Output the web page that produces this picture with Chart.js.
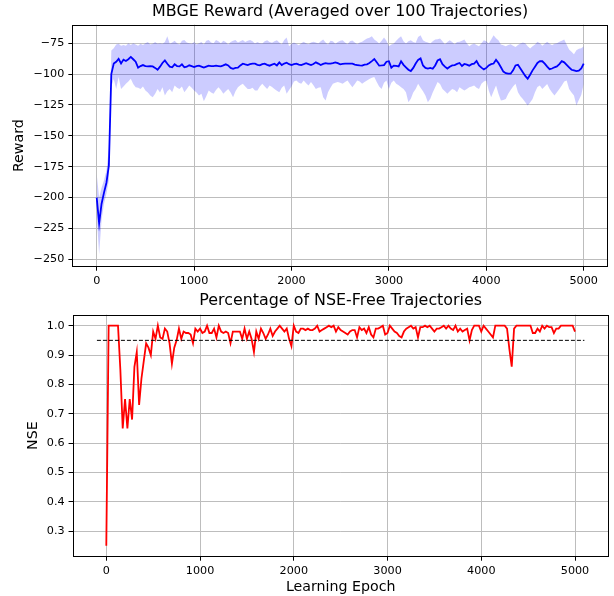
<!DOCTYPE html>
<html>
<head>
<meta charset="utf-8">
<script src="https://cdn.jsdelivr.net/npm/chart.js@4.4.0/dist/chart.umd.min.js"></script>
<style>
  html, body { margin: 0; padding: 0; background: #fff; }
  #wrap { position: relative; width: 614px; height: 596px; }
  #rewardChart { position: absolute; left: 0; top: 0; }
  #nseChart { position: absolute; left: 0; top: 290px; }
</style>
</head>
<body>
<div id="wrap">
  <canvas id="rewardChart" width="614" height="290"></canvas>
  <canvas id="nseChart" width="614" height="306"></canvas>
</div>
<script>
// epochs are evaluated every 25 learning epochs, 0..5000
const epochs = Array.from({ length: 201 }, (_, i) => i * 25);

const epochTicks = [0, 1000, 2000, 3000, 4000, 5000];
const rewardTicks = [-250, -225, -200, -175, -150, -125, -100, -75];
const nseTicks = [0.3, 0.4, 0.5, 0.6, 0.7, 0.8, 0.9, 1.0];

const rewardMean = [
  -200, -221, -205, -196, -188, -174, -100, -91.5, -90, -87.7,
  -91.4, -88.3, -89.4, -88, -86.1, -88, -90, -94.8, -93.5, -92.7,
  -93.5, -93.8, -93.5, -93.8, -95, -96.5, -94, -91, -88.9, -91.6,
  -94, -94.5, -92.1, -93.5, -93.8, -92.1, -94.5, -94, -92.9, -93.5,
  -94.3, -93.5, -93.2, -94, -94.8, -94, -93.2, -93.5, -93.5, -93.2,
  -93.5, -93.8, -93, -92.1, -93, -95, -95.7, -95, -94.8, -93,
  -91.6, -92.2, -92.7, -92, -91.6, -91.6, -92.5, -92.9, -92, -91.6,
  -92.5, -93.2, -92.3, -91.6, -93, -90.5, -92.7, -91.5, -90.8, -92,
  -92.7, -92, -91.6, -92.4, -92.7, -92, -91.2, -92, -92.7, -91.8,
  -90.5, -91.5, -92.7, -91.8, -91.2, -91.5, -91.6, -91.2, -90.5, -91.2,
  -92.1, -91.8, -91.6, -91.6, -91.6, -91.6, -92.4, -92.7, -93, -93.2,
  -92.3, -92.1, -91, -89.5, -87.8, -90.5, -93.2, -93, -92.7, -90,
  -89.6, -94.8, -93.2, -93.3, -93.8, -89.6, -92.5, -94.5, -96.5, -97.6,
  -95, -91.5, -88.5, -87.3, -93, -95, -95.5, -95, -95.7, -93,
  -89, -88, -92, -94, -95.5, -94, -93, -92.7, -91.7, -91,
  -93.5, -91.8, -92.3, -93.2, -92, -91.5, -89.4, -93, -94.8, -96.2,
  -95, -93, -92, -91.5, -88.5, -91, -94.5, -98, -99.3, -99.7,
  -99.7, -97, -93, -92.5, -95.5, -98.5, -101.5, -103.8, -100.5, -97,
  -94, -91, -89.5, -89.6, -91.5, -94, -96, -95.5, -94.5, -93.8,
  -92, -89.6, -90.5, -92.5, -94.5, -96.5, -97, -97.6, -97.3, -95.5,
  -91.6
];

const rewardUpper = [
  -181, -200, -192, -186, -178, -160, -81, -79, -76, -75.5,
  -77, -76.5, -77, -75, -76.5, -75, -76, -77, -75.5, -76.5,
  -75, -74, -76, -75.5, -74, -75.5, -75, -75.5, -74, -69.3,
  -75.5, -74.5, -73, -75, -76, -73, -72.5, -74.5, -75, -75.5,
  -74, -76, -75, -74, -76, -73, -72.5, -74.5, -75, -72.5,
  -73.5, -75, -73, -74, -76, -74, -73, -72.5, -74.5, -73.5,
  -72.5, -74, -73, -72.5, -73.5, -75.3, -74, -75, -75.3, -73.5,
  -72.6, -74, -74.7, -73.5, -72.6, -74.5, -75.8, -72.5, -70.4, -77.4,
  -75.5, -74.5, -75.5, -76.6, -75, -73.9, -75, -75.8, -74.5, -73.9,
  -74.5, -75.3, -73.5, -72, -74.5, -76, -73, -73.5, -75.5, -74,
  -73, -72.6, -74.5, -75.8, -73.5, -72.8, -74.5, -75.8, -74.5, -73.9,
  -72.5, -71.2, -70.5, -69.3, -72, -73.5, -75.3, -73, -70.4, -73,
  -77.4, -76, -75.3, -73, -71, -69.3, -73.5, -75.3, -73.5, -72.6,
  -74, -74.7, -70, -68.5, -72.6, -73.9, -74.5, -75.3, -73.5, -72,
  -71.8, -71.2, -73.5, -75.8, -74, -72.6, -74, -75.8, -74, -73.9,
  -73, -72, -75, -77.4, -76, -75.3, -76.5, -77.4, -75, -72.6,
  -73.5, -75.3, -72, -68.5, -71, -72.6, -76, -76.6, -77.4, -76.5,
  -75.8, -77, -78, -76.5, -75.3, -74.5, -75, -77.5, -79.3, -77.5,
  -76, -73.9, -75, -77, -75.5, -73.9, -75.5, -76.6, -75.5, -75,
  -73.9, -73, -72, -76, -80.2, -82, -84, -80.7, -79.5, -79,
  -77.4
];

const rewardLower = [
  -215, -246, -218, -205, -197, -186, -110, -104, -112, -102.4,
  -112, -110, -107.9, -106, -103.8, -108, -110.6, -111, -112, -110,
  -113.3, -115, -117.4, -118.8, -116, -112, -115, -110.6, -117.4, -114,
  -112, -114.7, -109.2, -111, -112, -110, -114.7, -112, -109.2, -111,
  -113.3, -115, -117.4, -116, -122, -118, -113.3, -115, -116, -113,
  -110.6, -113, -116, -114, -112, -115, -118.8, -114, -110.6, -109,
  -107.9, -110, -112, -112, -111, -113.3, -113.3, -110, -107.9, -110,
  -112, -109.2, -110.5, -112, -113.5, -114.7, -111, -109.2, -116, -113,
  -110, -106, -105.2, -107, -107.9, -105.2, -107.5, -109.2, -106.5, -109,
  -112, -111, -110.6, -118.8, -121.5, -114.7, -111, -107.9, -107, -106.5,
  -107, -107.9, -106.5, -105.2, -108, -110.6, -108, -105.2, -106, -107.9,
  -106.5, -105.2, -104, -103, -102.4, -106.5, -110, -112, -107, -105.2,
  -112, -107, -105.2, -107.9, -109, -110.6, -112, -114.7, -122.8, -120,
  -115, -112, -107.9, -111, -114, -117.4, -122.8, -120, -115, -110.6,
  -106.5, -108, -112, -114, -116, -114, -112, -113, -114.7, -110.6,
  -112, -113.3, -112, -110.6, -110, -109.2, -111, -112, -107.9, -106,
  -105.2, -113.3, -118.8, -114, -109.2, -116, -121.5, -121, -120.1, -116,
  -113, -110, -107.9, -114.7, -118, -120.1, -122.8, -125.5, -123, -120.1,
  -114.7, -110.5, -109.2, -112, -110, -108, -112, -115, -117.4, -114.7,
  -112, -109.2, -106, -105.2, -112, -115, -117.4, -125.5, -121, -117,
  -108
];

const nseFree = [
  0.25, 1.0, 1.0, 1.0, 1.0, 1.0, 0.85, 0.65, 0.75, 0.65,
  0.75, 0.68, 0.86, 0.91, 0.73, 0.82, 0.88, 0.94, 0.925, 0.90,
  0.98, 0.955, 1.0, 0.96, 0.955, 0.99, 0.98, 0.94, 0.87, 0.925,
  0.95, 0.99, 0.955, 0.98, 0.975, 0.975, 0.97, 0.94, 0.99, 0.98,
  0.99, 0.975, 0.98, 1.0, 0.975, 0.975, 0.99, 0.96, 1.0, 0.98,
  0.975, 0.98, 0.975, 0.94, 0.98, 0.98, 0.98, 0.98, 0.955, 0.99,
  0.955, 0.98, 0.955, 0.91, 0.98, 0.955, 0.99, 0.975, 0.955, 0.97,
  0.99, 0.965, 0.98, 0.99, 1.0, 0.99, 0.98, 0.99, 0.955, 0.93,
  1.0, 0.98, 0.975, 0.99, 0.99, 0.985, 0.99, 0.985, 0.985, 0.99,
  1.0, 0.98, 0.985, 0.99, 0.995, 1.0, 0.995, 1.0, 0.98, 0.995,
  0.985, 0.98, 0.975, 0.97, 0.98, 0.985, 0.985, 0.96, 0.995, 0.985,
  0.99, 0.975, 0.995, 0.97, 0.96, 0.99, 0.99, 0.995, 1.0, 0.97,
  0.975, 1.0, 0.99, 0.98, 0.975, 0.965, 0.96, 0.98, 0.99, 0.995,
  1.0, 0.99, 0.995, 0.96, 0.995, 0.995, 1.0, 0.995, 1.0, 0.99,
  0.98, 0.99, 0.99, 0.995, 1.0, 0.99, 1.0, 0.99, 0.985, 1.0,
  0.98, 0.99, 0.98, 0.985, 0.99, 0.95, 0.985, 1.0, 1.0, 1.0,
  0.98, 1.0, 0.99, 0.98, 0.97, 0.96, 1.0, 1.0, 1.0, 1.0,
  1.0, 0.99, 0.92, 0.86, 0.99, 1.0, 1.0, 1.0, 1.0, 1.0,
  1.0, 1.0, 0.975, 0.975, 0.99, 0.98, 1.0, 0.99, 1.0, 0.995,
  0.995, 0.975, 0.99, 0.99, 1.0, 1.0, 1.0, 1.0, 1.0, 1.0,
  0.98
];

const thresholdX = [-100, 5100];
const thresholdY = [0.95, 0.95];

Chart.defaults.font.family = "'DejaVu Sans', sans-serif";
Chart.defaults.color = "#000";

const points = (xs, ys) => xs.map((x, i) => ({ x, y: ys[i] }));
const minus = v => String(v).replace("-", "\u2212");
const fixedTicks = values => scale => { scale.ticks = values.map(value => ({ value })); };

// black box round the plot area, like matplotlib spines
const framePlugin = {
  id: "frame",
  afterDatasetsDraw(chart) {
    const { ctx, chartArea: a } = chart;
    const x0 = Math.round(a.left) + 0.5, y0 = Math.round(a.top) + 0.5;
    const x1 = Math.round(a.right) - 0.5, y1 = Math.round(a.bottom) - 0.5;
    ctx.save();
    ctx.strokeStyle = "#000";
    ctx.lineWidth = 1;
    ctx.strokeRect(x0, y0, x1 - x0, y1 - y0);
    ctx.restore();
  },
};

const gridStyle = { color: "#bdbdbd", lineWidth: 1, tickColor: "#000", tickLength: 4 };
const tickFont = { size: 11.2 };

function baseOptions(title, padRight) {
  return {
    responsive: false,
    animation: false,
    events: [],
    layout: { padding: { left: 0, right: padRight, top: 0, bottom: 0 } },
    plugins: {
      legend: { display: false },
      tooltip: { enabled: false },
      title: {
        display: true,
        fullSize: false,
        text: title,
        color: "#000",
        font: { size: 15.9, weight: "normal" },
        padding: { top: 2.5, bottom: 3.1 },
      },
    },
  };
}

// Reward chart
const rewardOpts = baseOptions("MBGE Reward (Averaged over 100 Trajectories)", 5.95);
rewardOpts.scales = {
  x: {
    type: "linear",
    min: -250,
    max: 5250,
    grid: gridStyle,
    border: { display: false },
    ticks: { font: tickFont, padding: 4, maxRotation: 0, autoSkip: false, callback: v => String(v) },
    afterBuildTicks: fixedTicks(epochTicks),
    afterFit: s => { s.height = 23.3; },
  },
  y: {
    type: "linear",
    min: -256,
    max: -60,
    grid: gridStyle,
    border: { display: false },
    ticks: { font: tickFont, padding: 4, autoSkip: false, callback: v => minus(v) },
    afterBuildTicks: fixedTicks(rewardTicks),
    title: { display: true, text: "Reward", color: "#000", font: { size: 14.2 }, padding: { top: 10.5 } },
    afterFit: s => { s.width = 72.35; },
  },
};

new Chart(document.getElementById("rewardChart"), {
  type: "line",
  data: {
    datasets: [
      { label: "mean", data: points(epochs, rewardMean), borderColor: "#0000ff", borderWidth: 1.8, pointRadius: 0, fill: false },
      { label: "upper", data: points(epochs, rewardUpper), borderColor: "rgba(0,0,0,0)", borderWidth: 0, pointRadius: 0, backgroundColor: "rgba(0,0,255,0.2)", fill: "+1" },
      { label: "lower", data: points(epochs, rewardLower), borderColor: "rgba(0,0,0,0)", borderWidth: 0, pointRadius: 0, fill: false },
    ],
  },
  options: rewardOpts,
  plugins: [framePlugin],
});

// NSE chart
const nseOpts = baseOptions("Percentage of NSE-Free Trajectories", 5.25);
nseOpts.plugins.title.padding = { top: 1.7, bottom: 3.9 };
nseOpts.scales = {
  x: {
    type: "linear",
    min: -360,
    max: 5360,
    grid: gridStyle,
    border: { display: false },
    ticks: { font: tickFont, padding: 4, maxRotation: 0, autoSkip: false, callback: v => String(v) },
    afterBuildTicks: fixedTicks(epochTicks),
    title: { display: true, text: "Learning Epoch", color: "#000", font: { size: 14.2 }, padding: { top: 0, bottom: 0.6 } },
    afterFit: s => { s.height = 39.3; },
  },
  y: {
    type: "linear",
    min: 0.2125,
    max: 1.0375,
    grid: gridStyle,
    border: { display: false },
    ticks: { font: tickFont, padding: 4, autoSkip: false, callback: v => v.toFixed(1) },
    afterBuildTicks: fixedTicks(nseTicks),
    title: { display: true, text: "NSE", color: "#000", font: { size: 14.2 }, padding: { top: 24.5 } },
    afterFit: s => { s.width = 72.55; },
  },
};

new Chart(document.getElementById("nseChart"), {
  type: "line",
  data: {
    datasets: [
      { label: "threshold", data: points(thresholdX, thresholdY), borderColor: "#000", borderWidth: 1, borderDash: [4, 2], pointRadius: 0, fill: false },
      { label: "nse", data: points(epochs, nseFree), borderColor: "#ff0000", borderWidth: 1.8, pointRadius: 0, fill: false },
    ],
  },
  options: nseOpts,
  plugins: [framePlugin],
});
</script>
</body>
</html>
